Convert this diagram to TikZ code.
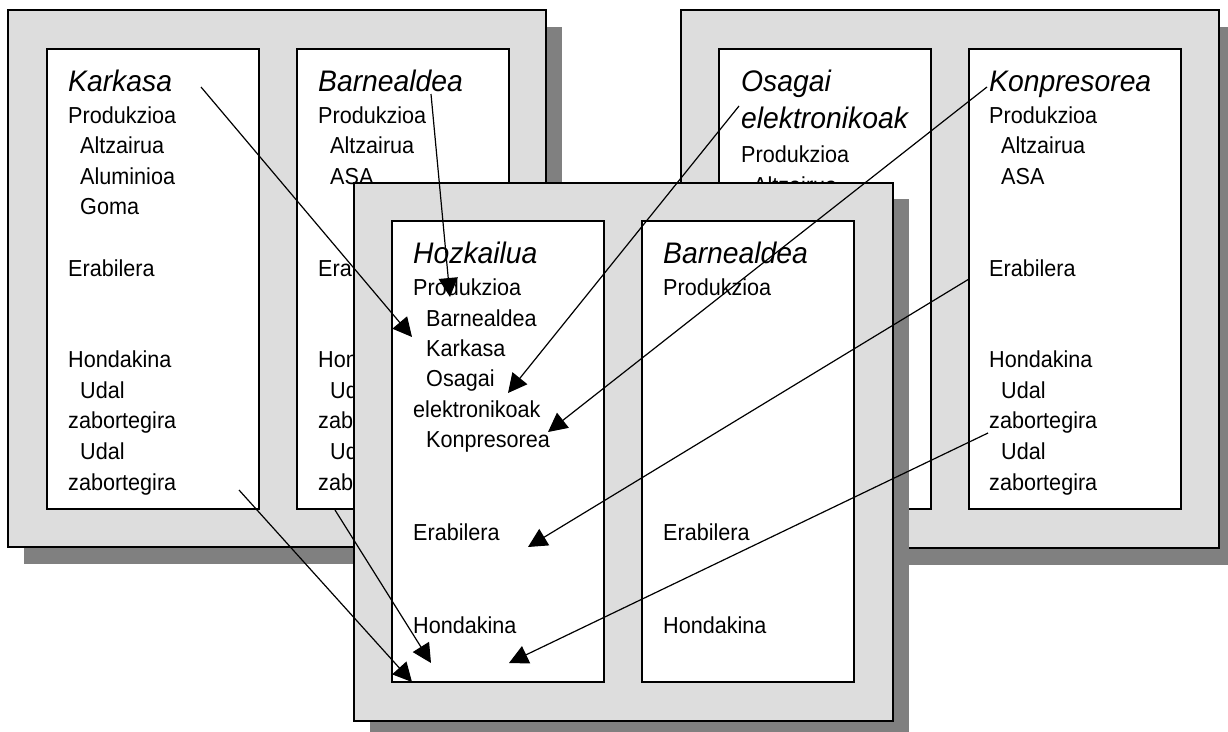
\documentclass[tikz,border=0pt]{standalone}
\usepackage{fontspec}
\setmainfont{Liberation Sans}
\usepackage{graphicx}
\usetikzlibrary{arrows.meta}
\definecolor{panelgray}{RGB}{221,221,221}
\definecolor{shadowgray}{RGB}{128,128,128}
\newcommand{\bodytxt}[1]{\scalebox{1}[1.07]{#1}}
\newcommand{\ttltxt}[1]{\scalebox{1}[1.05]{#1}}
\begin{document}
\begin{tikzpicture}[x=1pt,y=-1pt,
  panel/.style={draw=black, line width=1.6pt, fill=panelgray, anchor=north west, inner sep=0pt, outer sep=0pt},
  shade/.style={fill=shadowgray},
  card/.style={draw=black, line width=1.3pt, fill=white, anchor=north west, inner sep=0pt, outer sep=0pt, minimum width=212pt},
  body/.style={anchor=base west, inner sep=0pt, font=\fontsize{21.6}{26}\selectfont},
  ttl/.style={anchor=base west, inner sep=0pt, font=\fontsize{28.3}{34}\selectfont\itshape},
  link/.style={line width=1.2pt, -{Triangle[length=19pt,width=19pt]}}]
\useasboundingbox[fill=white] (0,0) rectangle (1228,731);

% ---------- left panel ----------
\fill[shade] (24,27) rectangle (562,564);
\node[panel, minimum width=538pt, minimum height=537pt] (LP) at (8,10) {};
\node[card, minimum height=460pt] (LK) at (47,49) {};
\node[card, minimum height=460pt] (LB) at (297,49) {};
\node[ttl] (lkt) at (68,91) {\ttltxt{Karkasa}};
\foreach \x/\y/\t [count=\i] in {68/123/Produkzioa, 80/153/Altzairua, 80/184/Aluminioa, 80/214/Goma,
  68/276/Erabilera, 68/367/Hondakina, 80/398/Udal, 68/428/zabortegira, 80/459/Udal, 68/490/zabortegira}
  \node[body] (lk\i) at (\x,\y) {\bodytxt{\t}};
\node[ttl] (lbt) at (318,91) {\ttltxt{Barnealdea}};
\foreach \x/\y/\t [count=\i] in {318/123/Produkzioa, 330/153/Altzairua, 330/184/ASA,
  318/276/Erabilera, 318/367/Hondakina, 330/398/Udal, 318/428/zabortegira, 330/459/Udal, 318/490/zabortegira}
  \node[body] (lb\i) at (\x,\y) {\bodytxt{\t}};

% ---------- right panel ----------
\fill[shade] (697,27) rectangle (1235,565);
\node[panel, minimum width=538pt, minimum height=538pt] (RP) at (681,10) {};
\node[card, minimum height=460pt] (RO) at (719,49) {};
\node[card, minimum height=460pt] (RK) at (969,49) {};
\node[ttl] (rot1) at (741,91) {\ttltxt{Osagai}};
\node[ttl] (rot2) at (741,128) {\ttltxt{elektronikoak}};
\node[body] (ro1) at (741,162) {\bodytxt{Produkzioa}};
\node[body] (ro2) at (753,193) {\bodytxt{Altzairua}};
\node[ttl] (rkt) at (989,91) {\ttltxt{Konpresorea}};
\foreach \x/\y/\t [count=\i] in {989/123/Produkzioa, 1001/153/Altzairua, 1001/184/ASA,
  989/276/Erabilera, 989/367/Hondakina, 1001/398/Udal, 989/428/zabortegira, 1001/459/Udal, 989/490/zabortegira}
  \node[body] (rk\i) at (\x,\y) {\bodytxt{\t}};

% ---------- middle panel ----------
\fill[shade] (370,199) rectangle (909,737);
\node[panel, minimum width=539pt, minimum height=538pt] (MP) at (354,183) {};
\node[card, minimum height=461pt] (MH) at (392,221) {};
\node[card, minimum height=461pt] (MB) at (642,221) {};
\node[ttl] (mht) at (413,263) {\ttltxt{Hozkailua}};
\foreach \x/\y/\t [count=\i] in {413/295/Produkzioa, 426/326/Barnealdea, 426/356/Karkasa, 426/386/Osagai,
  413/417/elektronikoak, 426/447/Konpresorea, 413/540/Erabilera, 413/633/Hondakina}
  \node[body] (mh\i) at (\x,\y) {\bodytxt{\t}};
\node[ttl] (mbt) at (663,263) {\ttltxt{Barnealdea}};
\foreach \x/\y/\t [count=\i] in {663/295/Produkzioa, 663/540/Erabilera, 663/633/Hondakina}
  \node[body] (mb\i) at (\x,\y) {\bodytxt{\t}};

% ---------- connectors ----------
\coordinate (s1) at (201,87);  \coordinate (e1) at (412,337);
\coordinate (s2) at (431,94);  \coordinate (e2) at (450,297);
\coordinate (s3) at (739,106); \coordinate (e3) at (508,393);
\coordinate (s4) at (987,87);  \coordinate (e4) at (548,432);
\coordinate (s5) at (969,279); \coordinate (e5) at (528,547);
\coordinate (s6) at (988,433); \coordinate (e6) at (509,663);
\coordinate (s7) at (239,490); \coordinate (e7) at (412,682);
\coordinate (s8) at (335,510); \coordinate (e8) at (431,663);
\foreach \k in {1,...,8}
  \draw[link] (s\k) -- (e\k);
\end{tikzpicture}
\end{document}
